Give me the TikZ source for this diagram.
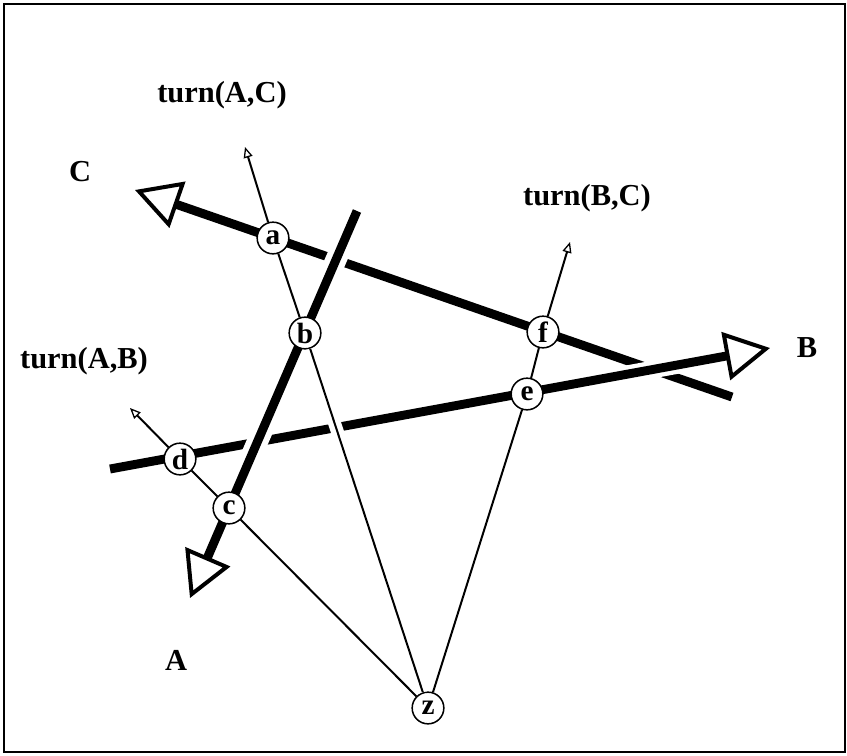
\documentclass[tikz,border=0pt]{standalone}
\usepackage{fontspec}
\setmainfont{Liberation Serif}
\usepackage{tikz}
\usetikzlibrary{arrows.meta, positioning}
\tikzset{
  vec/.style={line width=7.6pt, -{Triangle[fill=white, length=1.35cm, width=1.45cm, line width=3.4pt]}},
  turnline/.style={line width=1.7pt, -{Triangle[fill=white, length=0.32cm, width=0.27cm, line width=1.1pt]}},
  underpass/.style={white, line width=#1},
  isect/.style={circle, draw, line width=1.3pt, fill=white, minimum size=0.95cm, inner sep=0pt, font=\fontsize{25}{25}\selectfont\bfseries},
  lbl/.style={font=\fontsize{26}{26}\selectfont\bfseries}
}

\begin{document}
\begin{tikzpicture}[x=0.03cm, y=-0.03cm]
  \useasboundingbox (0,0) rectangle (847,755);
  % Frame
  \draw[line width=1.2pt] (4,4) rectangle (845,752);

  % Ends of the vectors and of the turn lines
  \coordinate (Ct) at (732,397);
  \coordinate (Ch) at (135,190);
  \coordinate (Bt) at (110,469);
  \coordinate (Bh) at (770,348);
  \coordinate (At) at (357,211);
  \coordinate (Ah) at (190,598);
  \coordinate (tAC) at (245,147);
  \coordinate (tAB) at (130,408);
  \coordinate (tBC) at (570,242);

  % Vector C (under the others)
  \draw[vec] (Ct) -- (Ch);
  % Vector B, over C
  \draw[underpass=15pt] (Bt) -- (Bh);
  \draw[vec] (Bt) -- (Bh);
  % Vector A, over B and C
  \draw[underpass=18pt] (At) -- (Ah);
  \draw[vec] (At) -- (Ah);

  % Intersection points
  \node[isect] (a) at (273,238) {a};
  \node[isect] (b) at (305,333) {b};
  \node[isect] (c) at (229,508) {c};
  \node[isect] (d) at (180,459) {d};
  \node[isect] (e) at (527,394) {e};
  \node[isect] (f) at (543,332) {f};
  \node[isect] (z) at (428,708) {z};

  % Turn lines
  \draw[underpass=11pt] (z) -- (b);
  \draw[turnline] (z) -- (b) -- (a) -- (tAC);
  \draw[turnline] (z) -- (c) -- (d) -- (tAB);
  \draw[turnline] (z) -- (e) -- (f) -- (tBC);

  % Labels
  \node[lbl] (labC) at (80,172) {C};
  \node[lbl] (labB) at (807,348) {B};
  \node[lbl] (labA) at (176,660) {A};
  \node[lbl] (labAC) at (222,95) {turn(A,C)};
  \node[lbl] (labBC) at (587,198) {turn(B,C)};
  \node[lbl] (labAB) at (84,361) {turn(A,B)};
\end{tikzpicture}
\end{document}
